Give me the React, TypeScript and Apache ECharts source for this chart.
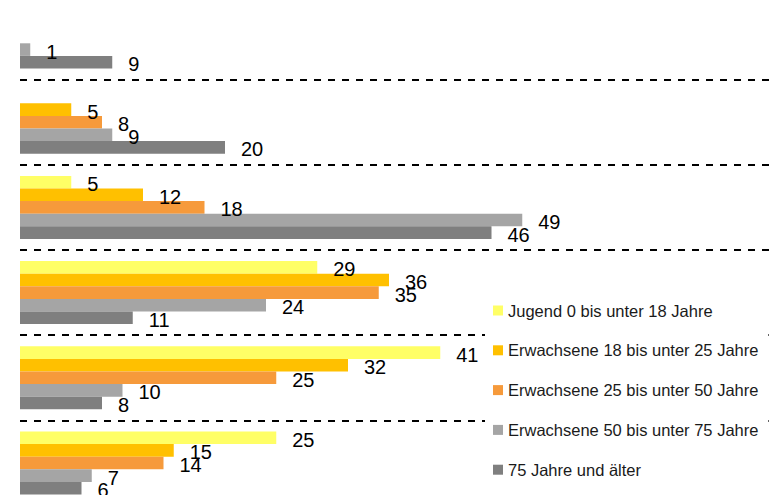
import React, { useEffect, useRef } from "react";
import * as echarts from "echarts";

const categories = ["Gruppe 1", "Gruppe 2", "Gruppe 3", "Gruppe 4", "Gruppe 5", "Gruppe 6"];
const seriesNames = [
  "Jugend 0 bis unter 18 Jahre",
  "Erwachsene 18 bis unter 25 Jahre",
  "Erwachsene 25 bis unter 50 Jahre",
  "Erwachsene 50 bis unter 75 Jahre",
  "75 Jahre und älter",
];
const jugend = [null, null, 5, 29, 41, 25];
const erw18 = [null, 5, 12, 36, 32, 15];
const erw25 = [null, 8, 18, 35, 25, 14];
const erw50 = [1, 9, 49, 24, 10, 7];
const senior = [9, 20, 46, 11, 8, 6];
const colors = ["#FFFF66", "#FFC000", "#F69A3B", "#A5A5A5", "#7F7F7F"];

export default function App() {
  const ref = useRef<HTMLDivElement>(null);
  useEffect(() => {
    document.body.style.margin = "0";
    const chart = echarts.init(ref.current!, null, { renderer: "svg" });
    const values = [jugend, erw18, erw25, erw50, senior];
    chart.setOption({
      animation: false,
      backgroundColor: "#ffffff",
      grid: { left: 20, right: 11.25, top: 0.4, bottom: 0.4, containLabel: false },
      xAxis: {
        type: "value",
        min: 0,
        max: 75,
        show: false,
        splitLine: { show: false },
      },
      yAxis: {
        type: "category",
        data: categories,
        inverse: true,
        boundaryGap: true,
        axisLine: { show: false },
        axisTick: { show: false },
        axisLabel: { show: false },
        splitLine: {
          show: true,
          interval: 0,
          lineStyle: { color: "#000000", width: 2, type: [7, 7] },
        },
      },
      legend: {
        orient: "vertical",
        left: 485,
        top: 303,
        padding: [5, 10, 10, 8],
        backgroundColor: "#ffffff",
        icon: "rect",
        itemWidth: 10,
        itemHeight: 10,
        itemGap: 22.8,
        textStyle: { fontFamily: "Liberation Sans, Arial, sans-serif", fontSize: 16.5, color: "#1a1a1a" },
        data: seriesNames,
      },
      series: seriesNames.map((name, i) => ({
        name,
        type: "bar",
        data: values[i],
        barWidth: 12.6,
        barGap: "0%",
        itemStyle: { color: colors[i] },
        label: {
          show: true,
          position: "right",
          distance: 16,
          offset: [0, 2],
          fontFamily: "Liberation Sans, Arial, sans-serif",
          fontSize: 20,
          color: "#000000",
        },
      })),
    });
    return () => chart.dispose();
  }, []);
  return (
    <div style={{ position: "fixed", left: 0, top: 0, width: 770, height: 495, overflow: "hidden", background: "#fff" }}>
      <div
        ref={ref}
        style={{ position: "absolute", left: 0, top: -6, width: 800, height: 512 }}
      />
    </div>
  );
}
